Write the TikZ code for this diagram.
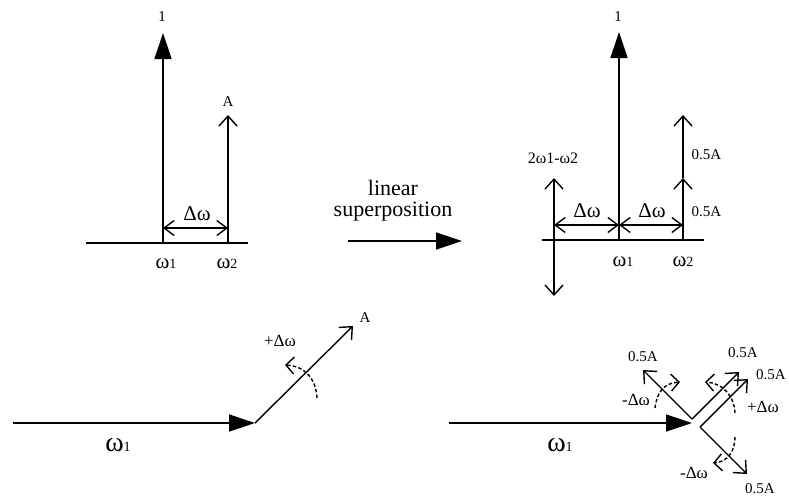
\documentclass[tikz,border=0pt]{standalone}
\usepackage{fontspec}
\setmainfont{Liberation Serif}
\usetikzlibrary{arrows.meta,positioning}
\newcommand{\omfreq}{{\fontsize{21}{21}\selectfont ω}}
\newcommand{\ombig}{{\fontsize{28}{28}\selectfont ω}}

\begin{document}
\begin{tikzpicture}[x=1pt, y=-1pt, line width=1.4pt,
  solidtip/.style={-{Triangle[length=26pt,width=17pt]}},
  opentip/.style={-{Straight Barb[length=10pt,width=18pt]}},
  twoway/.style={{Straight Barb[length=10pt,width=18pt]}-{Straight Barb[length=10pt,width=18pt]}},
  spanarrow/.style={{Straight Barb[length=10pt,width=15pt]}-{Straight Barb[length=10pt,width=15pt]}},
  turn/.style={dash pattern=on 3.5pt off 2.2pt, -{Straight Barb[length=8pt,width=17pt]}},
  lbl/.style={inner sep=0pt, font=\fontsize{15}{17}\selectfont},
  delta/.style={inner sep=0pt, font=\fontsize{21}{23}\selectfont},
  freq/.style={inner sep=0pt, font=\fontsize{14}{18}\selectfont},
  big/.style={inner sep=0pt, font=\fontsize{22}{24}\selectfont},
  turnlbl/.style={inner sep=0pt, font=\fontsize{17}{19}\selectfont}]
\useasboundingbox (0,0) rectangle (789,498);

% Two lines before superposition
\coordinate (la) at (86,243);
\coordinate (lb) at (248,243);
\coordinate (lw1) at (163,243);
\coordinate (lw2) at (228,243);
\coordinate (lw1top) at (163,33);
\coordinate (lw2top) at (228,115);
\coordinate (ld1) at (163,228);
\coordinate (ld2) at (228,228);
\draw (la) -- (lb);
\draw[solidtip] (lw1) -- (lw1top);
\draw[opentip] (lw2) -- (lw2top);
\draw[spanarrow] (ld1) -- (ld2);
\node[lbl] (lone) at (162,17) {1};
\node[lbl] (lamp) at (228,102) {A};
\node[delta] (ldw) at (197,214) {Δω};
\node[freq] (lf1) at (166,264) {\omfreq1};
\node[freq] (lf2) at (227,264) {\omfreq2};

% Superposition arrow
\node[big] (lin) at (393,188) {linear};
\node[big, below=5pt of lin.south] (sup) {superposition};
\coordinate (ma) at (348,241);
\coordinate (mb) at (462,241);
\draw[solidtip] (ma) -- (mb);

% Lines after superposition
\coordinate (ra) at (542,240);
\coordinate (rb) at (704,240);
\coordinate (rw1) at (619,240);
\coordinate (rw2) at (683,240);
\coordinate (rw1top) at (619,32);
\coordinate (rw2mid) at (683,178);
\coordinate (rw2top) at (683,115);
\coordinate (rw0top) at (554,178);
\coordinate (rw0bot) at (554,296);
\coordinate (rd0) at (554,225);
\coordinate (rd1) at (619,225);
\coordinate (rd2) at (683,225);
\draw (ra) -- (rb);
\draw[solidtip] (rw1) -- (rw1top);
\draw[opentip] (rw2) -- (rw2mid);
\draw[opentip] (rw2mid) -- (rw2top);
\draw[twoway] (rw0bot) -- (rw0top);
\draw[spanarrow] (rd0) -- (rd1);
\draw[spanarrow] (rd1) -- (rd2);
\node[lbl] (rone) at (618,17) {1};
\node[lbl, anchor=west] (rhalf1) at (691,155) {0.5A};
\node[lbl, anchor=west] (rhalf2) at (691,212) {0.5A};
\node[lbl, font=\fontsize{16}{18}\selectfont] (rside) at (553,158) {2ω1-ω2};
\node[delta] (rdw1) at (587,211) {Δω};
\node[delta] (rdw2) at (652,211) {Δω};
\node[freq] (rf1) at (623,262) {\omfreq1};
\node[freq] (rf2) at (683,262) {\omfreq2};

% Phasors before superposition
\coordinate (ba) at (13,423);
\coordinate (bc) at (255,423);
\coordinate (btip) at (353,326);
\coordinate (bt0) at (317,398);
\coordinate (bt1) at (285,365);
\draw[solidtip] (ba) -- (bc);
\draw[opentip] (bc) -- (btip);
\draw[turn] (bt0) .. controls (316,378) and (304,366) .. (bt1);
\node[freq] (bf1) at (118,445) {\ombig1};
\node[lbl] (bamp) at (365,318) {A};
\node[turnlbl] (bdw) at (280,341) {+Δω};

% Phasors after superposition
\coordinate (ca) at (449,423);
\coordinate (cc) at (692,423);
\coordinate (cu) at (692,419);
\coordinate (cd) at (700,427);
\coordinate (cul) at (643,370);
\coordinate (cur1) at (739,372);
\coordinate (cur2) at (748,379);
\coordinate (clr) at (747,474);
\draw[solidtip] (ca) -- (cc);
\draw[opentip] (cu) -- (cul);
\draw[opentip] (cu) -- (cur1);
\draw[opentip] (cd) -- (cur2);
\draw[opentip] (cd) -- (clr);
\coordinate (ct0) at (655,408);
\coordinate (ct1) at (680,382);
\coordinate (ct2) at (735,413);
\coordinate (ct3) at (705,382);
\coordinate (ct4) at (735,437);
\coordinate (ct5) at (713,463);
\draw[turn] (ct0) .. controls (657,392) and (664,383) .. (ct1);
\draw[turn] (ct2) .. controls (734,395) and (722,383) .. (ct3);
\draw[turn] (ct4) .. controls (735,452) and (727,462) .. (ct5);
\node[freq] (cf1) at (560,445) {\ombig1};
\node[lbl] (chalf1) at (643,357) {0.5A};
\node[lbl] (chalf2) at (743,353) {0.5A};
\node[lbl] (chalf3) at (771,375) {0.5A};
\node[lbl] (chalf4) at (760,489) {0.5A};
\node[turnlbl] (cdw1) at (636,400) {-Δω};
\node[turnlbl] (cdw2) at (763,407) {+Δω};
\node[turnlbl] (cdw3) at (694,473) {-Δω};
\end{tikzpicture}
\end{document}
